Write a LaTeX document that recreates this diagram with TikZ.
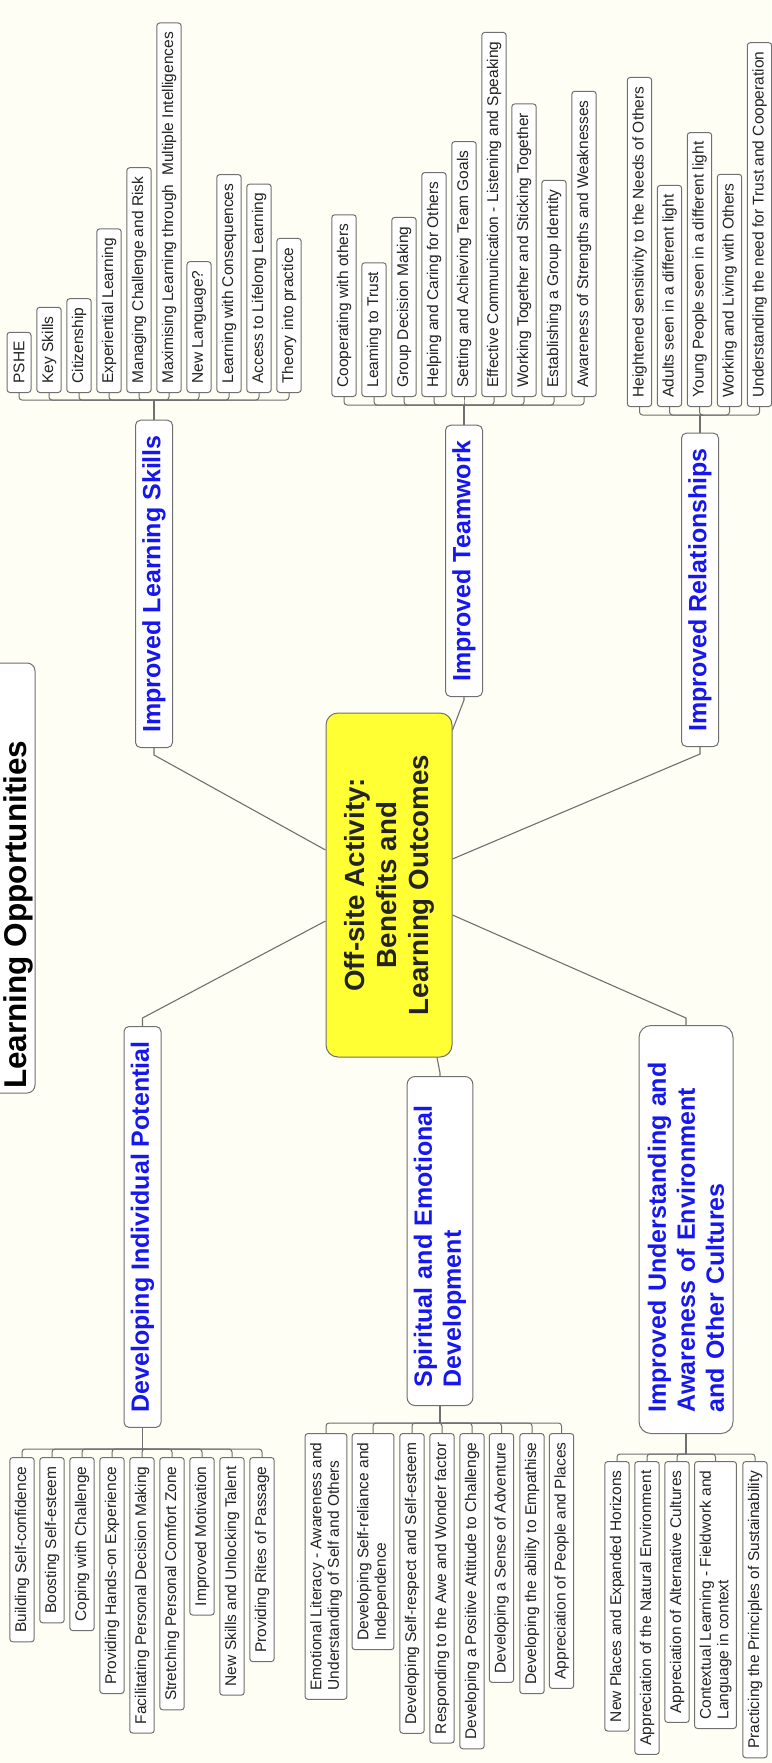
\documentclass[tikz,border=0pt]{standalone}
\usepackage{fontspec}
\setmainfont{Liberation Sans}
\usepackage{tikz}
\definecolor{paper}{RGB}{254,254,245}
\definecolor{edge}{RGB}{112,112,112}
\definecolor{hubblue}{RGB}{22,22,240}
\definecolor{ink}{RGB}{35,35,35}
\definecolor{sun}{RGB}{255,255,51}
\tikzset{
    leaf/.style={
        draw=edge, line width=1pt, fill=white, rounded corners=3pt, rotate=90, text=ink,
        font=\fontsize{15.5}{17.5}\selectfont,
        inner xsep=9pt, inner ysep=5pt, minimum height=24pt, align=left
    },
    head/.style={
        draw=edge, line width=1pt, fill=white, rounded corners=5pt, rotate=90, text=hubblue,
        font=\bfseries\fontsize{25}{29}\selectfont,
        inner xsep=15pt, inner ysep=6.75pt, minimum height=37pt, align=left
    },
    centre/.style={
        draw=edge, line width=1pt, fill=sun, rounded corners=12pt, rotate=90, text=ink,
        font=\bfseries\fontsize{27.7}{32}\selectfont,
        minimum width=344pt, minimum height=126pt, align=center
    },
    twig/.style={draw=edge, line width=1pt, rounded corners=3pt},
    limb/.style={draw=edge, line width=1.1pt}
}
% leaf above its header, hung from the bracket at its lower end
\newcommand{\leafUp}[5] {
	\node[leaf, anchor=west] (#2) at (#3,#4) {#5};
	\draw[twig] (#1) -| (#2.west);
}
% leaf below its header, hung from the bracket at its upper end
\newcommand{\leafDown}[5] {
	\node[leaf, anchor=east] (#2) at (#3,#4) {#5};
	\draw[twig] (#1) -| (#2.east);
}

\begin{document}
\begin{tikzpicture}[x=1pt, y=-1pt]
		\useasboundingbox (0,0) rectangle (771,1763);
		\fill[paper] (0,0) rectangle (771,1763);

		% title
		\draw[edge, line width=1pt, fill=white, rounded corners=8pt] (-20,663) rectangle (35,1093);
		\node[rotate=90, anchor=base west, inner sep=0pt, font=\bfseries\fontsize{31.5}{37}\selectfont] (title) at (27,1089) {Learning Opportunities};

		% centre
		\node[centre] (mid) at (389,885) {Off-site Activity:\\Benefits and\\Learning Outcomes};

		% Improved Learning Skills
		\node[head, anchor=west] (ls) at (154,748) {Improved Learning Skills};
		\coordinate (hubLS) at (154,400);
		\draw[limb] (ls.east) -- (hubLS);
		\draw[limb] (ls.west) -- ++(0,7) -- ([yshift=35pt]mid.north);
		\leafUp{hubLS}{ls1}{19}{393}{PSHE}
		\leafUp{hubLS}{ls2}{49}{393}{Key Skills}
		\leafUp{hubLS}{ls3}{79}{393}{Citizenship}
		\leafUp{hubLS}{ls4}{109}{393}{Experiential Learning}
		\leafUp{hubLS}{ls5}{139}{393}{Managing Challenge and Risk}
		\leafUp{hubLS}{ls6}{169}{393}{Maximising Learning through\ \ Multiple Intelligences}
		\leafUp{hubLS}{ls7}{199}{393}{New Language?}
		\leafUp{hubLS}{ls8}{229}{393}{Learning with Consequences}
		\leafUp{hubLS}{ls9}{259}{393}{Access to Lifelong Learning}
		\leafUp{hubLS}{ls10}{289}{393}{Theory into practice}

		% Improved Teamwork
		\node[head, anchor=west] (tw) at (464,697) {Improved Teamwork};
		\coordinate (hubTW) at (464,405);
		\draw[limb] (tw.east) -- (hubTW);
		\draw[limb] (tw.west) -- ++(0,3) -- ([yshift=155pt]mid.south);
		\leafUp{hubTW}{tw1}{344}{397}{Cooperating with others}
		\leafUp{hubTW}{tw2}{374}{397}{Leaming to Trust}
		\leafUp{hubTW}{tw3}{404}{397}{Group Decision Making}
		\leafUp{hubTW}{tw4}{434}{397}{Helping and Caring for Others}
		\leafUp{hubTW}{tw5}{464}{397}{Setting and Achieving Team Goals}
		\leafUp{hubTW}{tw6}{494}{397}{Effective Communication - Listening and Speaking}
		\leafUp{hubTW}{tw7}{524}{397}{Working Together and Sticking Together}
		\leafUp{hubTW}{tw8}{554}{397}{Establishing a Group Identity}
		\leafUp{hubTW}{tw9}{584}{397}{Awareness of Strengths and Weaknesses}

		% Improved Relationships
		\node[head, anchor=west] (rel) at (700,747) {Improved Relationships};
		\coordinate (hubRel) at (700,415);
		\draw[limb] (rel.east) -- (hubRel);
		\draw[limb] (rel.west) -- ++(0,7) -- ([yshift=26pt]mid.south);
		\leafUp{hubRel}{rel1}{639.5}{407}{Heightened sensitivity to the Needs of Others}
		\leafUp{hubRel}{rel2}{669.5}{407}{Adults seen in a different light}
		\leafUp{hubRel}{rel3}{699.5}{407}{Young People seen in a different light}
		\leafUp{hubRel}{rel4}{729.5}{407}{Working and Living with Others}
		\leafUp{hubRel}{rel5}{759.5}{407}{Understanding the need for Trust and Cooperation}

		% Developing Individual Potential
		\node[head, anchor=east] (dev) at (142.5,1026) {Developing Individual Potential};
		\coordinate (hubDev) at (142.5,1449);
		\draw[limb] (dev.west) -- (hubDev);
		\draw[limb] (dev.east) -- ++(0,-8) -- ([yshift=-36pt]mid.north);
		\leafDown{hubDev}{dev1}{22}{1457}{Building Self-confidence}
		\leafDown{hubDev}{dev2}{52}{1457}{Boosting Self-esteem}
		\leafDown{hubDev}{dev3}{82}{1457}{Coping with Challenge}
		\leafDown{hubDev}{dev4}{112}{1457}{Providing Hands-on Experience}
		\leafDown{hubDev}{dev5}{142}{1457}{Facilitating Personal Decision Making}
		\leafDown{hubDev}{dev6}{172}{1457}{Stretching Personal Comfort Zone}
		\leafDown{hubDev}{dev7}{202}{1457}{Improved Motivation}
		\leafDown{hubDev}{dev8}{232}{1457}{New Skills and Unlocking Talent}
		\leafDown{hubDev}{dev9}{262}{1457}{Providing Rites of Passage}

		% Spiritual and Emotional Development
		\node[head, anchor=east, text width=293pt, inner xsep=18pt, rounded corners=8pt] (spi) at (440,1076) {Spiritual and Emotional\\Development};
		\coordinate (hubSpi) at (440,1423);
		\draw[limb] (spi.west) -- (hubSpi);
		\draw[limb] (spi.east) -- ++(0,-3) -- ([xshift=48pt]mid.west);
		\leafDown{hubSpi}{spi1}{326}{1433}{Emotional Literacy - Awareness and\\Understanding of Self and Others}
		\leafDown{hubSpi}{spi2}{373}{1433}{Developing Self-reliance and\\Independence}
		\leafDown{hubSpi}{spi3}{412}{1433}{Developing Self-respect and Self-esteem}
		\leafDown{hubSpi}{spi4}{442}{1433}{Responding to the Awe and Wonder factor}
		\leafDown{hubSpi}{spi5}{472}{1433}{Developing a Positive Attitude to Challenge}
		\leafDown{hubSpi}{spi6}{501.5}{1433}{Developing a Sense of Adventure}
		\leafDown{hubSpi}{spi7}{532}{1433}{Developing the ability to Empathise}
		\leafDown{hubSpi}{spi8}{561.5}{1433}{Appreciation of People and Places}

		% Improved Understanding and Awareness of Environment and Other Cultures
		\node[head, anchor=east, text width=366pt, inner xsep=21pt, minimum height=94pt, rounded corners=12pt] (env) at (686,1025) {Improved Understanding and\\Awareness of Environment\\and Other Cultures};
		\coordinate (hubEnv) at (686,1454);
		\draw[limb] (env.west) -- (hubEnv);
		\draw[limb] (env.east) -- ++(0,-7) -- ([yshift=-30pt]mid.south);
		\leafDown{hubEnv}{env1}{617}{1461}{New Places and Expanded Horizons}
		\leafDown{hubEnv}{env2}{647}{1461}{Appreciation of the Natural Environment}
		\leafDown{hubEnv}{env3}{677}{1461}{Appreciation of Alternative Cultures}
		\leafDown{hubEnv}{env4}{715.5}{1461}{Contextual Learning - Fieldwork and\\Language in context}
		\leafDown{hubEnv}{env5}{755}{1461}{Practicing the Principles of Sustainability}

	\end{tikzpicture}
\end{document}
